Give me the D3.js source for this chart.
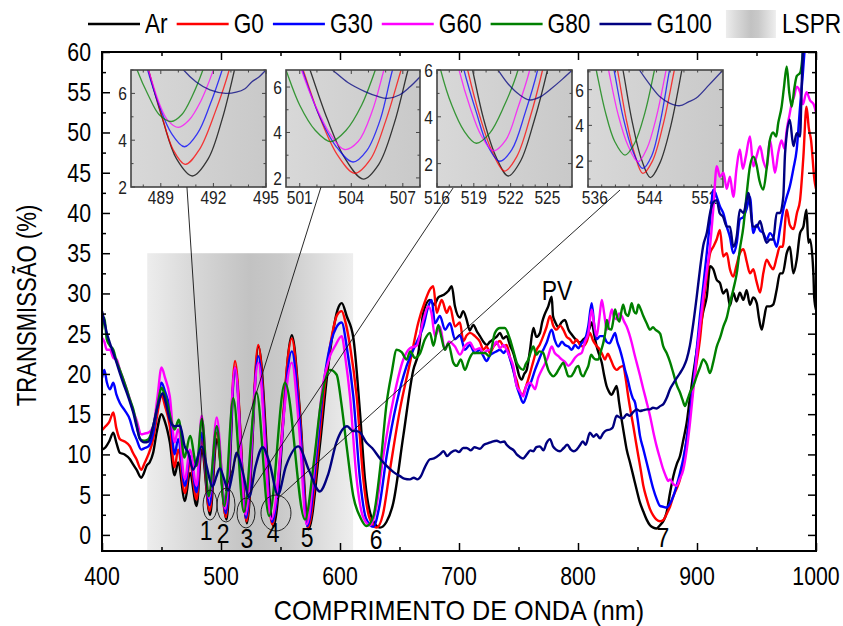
<!DOCTYPE html>
<html>
<head>
<meta charset="utf-8">
<script src="https://cdn.jsdelivr.net/npm/d3@7"></script>
<style>
  body { margin: 0; background: #fff; }
  svg { display: block; font-family: "Liberation Sans", Arial, sans-serif; }
</style>
</head>
<body>
<svg id="chart" width="843" height="626"></svg>
<script>
// Series names and colours (legend order)
const seriesNames = ['Ar', 'G0', 'G30', 'G60', 'G80', 'G100'];
const seriesColors = ['#000000', '#ff0000', '#0000ff', '#ff00ff', '#008000', '#000080'];

// Transmission spectra, [wavelength nm, transmission %]
const ar = [[400,10.6],[403,10.9],[406,11.6],[409.5,12.7],[412,11.5],[415,10.2],[419,10.0],[423.5,9.4],[426,8.8],[429,8.1],[433,7.1],[435,7.6],[437.5,8.6],[440,9.0],[443,10.2],[446,12.8],[450,15.0],[453,14.0],[457,11.5],[461,7.4],[464,9.0],[469.7,4.2],[473.9,7.7],[479.5,3.6],[483.7,10.6],[490.8,2.5],[496.4,11.9],[504.7,1.9],[511.8,20.8],[521.8,1.45],[531.5,23.4],[544.1,1.05],[559.5,24.8],[566.4,15.2],[573.5,0.7],[583,11.0],[588.8,19.3],[594.4,25.5],[598,28.0],[601.5,28.8],[605.6,27.2],[611.2,24.5],[616.8,15.2],[621,6.9],[627,2.0],[633.6,0.9],[639,1.6],[644.8,4.0],[653.2,12.3],[661.6,20.5],[665.8,22.6],[670,27.6],[675.6,29.2],[679,28.6],[682.6,29.5],[686.8,29.8],[691,30.3],[693.9,30.9],[696.6,28.4],[700.8,27.0],[703.5,27.8],[706.5,26.7],[709,25.4],[712,26.1],[715,25.3],[717.6,24.7],[720.5,24.0],[723.3,23.6],[726,24.0],[728.8,24.3],[731.5,24.6],[734.5,25.1],[737,24.4],[740,24.7],[743,23.5],[745.6,22.6],[748.5,21.0],[750.5,19.8],[752.7,19.3],[754.8,20.0],[756.9,20.5],[759.5,22.8],[762.5,25.7],[765,24.6],[768,25.1],[770,26.5],[772,27.4],[775,28.4],[777.9,29.6],[779,27.2],[781,26.4],[783.4,25.8],[786,26.4],[789,26.7],[792,25.5],[794.7,24.9],[798,24.3],[801.7,23.9],[804.5,24.3],[807.3,24.7],[809.5,25.6],[811.5,26.4],[813.5,25.0],[815.7,23.4],[818,22.3],[820,21.4],[822,19.8],[824,18.5],[826,17.8],[828.3,17.4],[830.5,18.0],[832.5,18.5],[834.5,16.5],[836.7,14.3],[838.8,12.4],[840.9,10.6],[843.7,9.0],[846.5,7.3],[849.3,5.6],[852.1,4.0],[854.9,2.9],[857.7,1.9],[860.5,1.2],[863.3,0.9],[866,0.8],[868.9,1.2],[872,1.8],[874.5,2.8],[877.3,5.2],[880.1,7.3],[883,8.8],[885.7,9.8],[888.5,11.8],[891.3,13.9],[894,17.0],[896.9,20.1],[899.7,22.8],[902.5,25.5],[905.3,27.8],[908.2,29.6],[911,33.4],[913.7,33.0],[916.5,31.7],[919.3,31.3],[922,30.0],[925,30.5],[927.7,28.5],[930.5,30.1],[933.2,29.0],[936,30.1],[939,29.2],[941.7,30.4],[944.5,28.6],[947.3,29.5],[950.2,28.8],[952,27.0],[954.4,25.5],[956.5,27.0],[958.5,28.4],[961.3,28.4],[964,28.6],[967,30.5],[969.7,32.5],[972,32.5],[975.4,35.0],[978,35.8],[981,32.5],[983.8,34.2],[986.6,37.5],[989.4,38.3],[992,40.4],[993.6,36.3],[995,36.7],[997.8,32.5],[998.5,29.5],[1000,28.0]];

const g0 = [[400,13.0],[403,13.5],[406,14.0],[409.5,15.2],[412,13.3],[415,11.9],[419,11.6],[423.5,11.0],[426,10.2],[429,9.4],[433,8.1],[436,9.0],[439,10.0],[443,11.9],[446.5,15.0],[450,17.4],[453,16.0],[457,13.5],[461,8.4],[464,10.6],[469.7,5.2],[473.9,9.0],[479.5,4.4],[483.7,11.9],[490.4,2.95],[496.4,12.7],[504.2,2.2],[511.8,21.6],[521.5,1.68],[531.3,23.6],[543,1.3],[559.5,24.4],[566,15.5],[573,0.9],[582,11.0],[587.5,19.0],[593.5,25.0],[597.5,27.3],[601.4,27.8],[604.5,26.5],[608.4,23.5],[614,17.2],[619.6,6.9],[625,2.0],[630.8,0.9],[636,2.5],[642,8.1],[650.4,15.6],[658.8,21.4],[665.8,26.4],[671.4,29.0],[675.6,30.5],[678.4,30.9],[681.3,27.6],[683.5,28.5],[685.5,29.2],[689.7,27.6],[692.4,28.4],[696.6,25.9],[700.8,26.4],[703.6,24.1],[706.5,24.8],[709.2,25.1],[713.4,24.7],[717.6,24.0],[720.5,23.0],[723.2,23.4],[726,22.6],[729,23.4],[731.5,23.8],[734.5,24.1],[737.5,23.4],[740,23.6],[743,22.0],[745.6,20.5],[748.5,19.2],[751.3,17.7],[753.5,17.4],[755.5,18.1],[757.5,19.0],[759.7,20.1],[762.5,21.6],[765.3,23.0],[768,23.7],[770.8,24.7],[773.5,25.8],[776.5,27.2],[779.2,26.0],[782,25.5],[785,26.0],[787.6,25.5],[790.5,24.6],[793.3,24.3],[796,23.8],[798.9,24.3],[801.7,23.6],[804.5,23.4],[807.3,24.0],[810,25.1],[812.5,24.2],[815,23.6],[818.5,23.0],[820.5,22.4],[822.7,21.8],[825,22.5],[827.5,21.8],[830,20.9],[832.5,20.5],[835,20.8],[838,21.0],[840,19.5],[842.2,17.2],[844.3,15.3],[846.5,13.5],[848.5,11.7],[850.7,9.8],[852.8,8.0],[854.9,6.1],[857.7,4.5],[860.5,3.2],[863.3,2.4],[866,1.9],[869,1.7],[872,1.9],[874.5,2.6],[877.3,3.5],[880.1,4.8],[883,5.8],[885.7,6.9],[888.5,9.0],[891.3,11.9],[894,15.0],[896.9,18.5],[899.7,21.4],[902.5,24.3],[905.3,28.5],[908.2,32.1],[911,35.0],[913.7,35.8],[916.5,36.7],[919.3,37.9],[922,34.6],[925,35.0],[927.7,33.0],[930.5,32.1],[933.2,33.5],[936,35.0],[939,35.5],[941.7,34.0],[944.5,32.5],[947.3,33.0],[950,31.5],[953,30.1],[955.7,32.5],[958.5,34.2],[961.3,33.5],[964,33.0],[967,34.5],[969.7,35.8],[972,35.8],[975.4,40.4],[978,38.5],[981,38.0],[984,40.0],[986.6,41.6],[989.4,47.0],[992,53.2],[994,50.5],[995.8,49.1],[998.7,44.1],[1000,43.0]];

const g30 = [[400,19.5],[402,20.5],[404,19.0],[406.7,18.1],[409.5,18.9],[412,17.5],[415,16.4],[419,15.5],[423.5,14.3],[426,13.0],[429,11.9],[433,10.6],[436,10.8],[439,11.0],[443,12.7],[446.5,16.0],[450,18.9],[453,17.8],[457,15.6],[461,10.0],[464,11.9],[469.7,6.1],[473.9,9.8],[479.5,5.3],[483.7,12.7],[490.35,3.7],[496.4,13.5],[504.1,2.7],[511.8,20.6],[521.1,2.1],[531.3,22.2],[543,1.6],[559.5,22.8],[566,14.5],[572.5,1.1],[581,11.0],[586.5,19.0],[592.5,24.0],[597,25.8],[601.4,26.4],[606,23.0],[611.2,17.2],[616.8,6.9],[622,2.0],[628,1.0],[633,3.5],[639.2,9.8],[647.6,16.4],[656,21.0],[664.4,23.9],[670,25.9],[674.2,28.4],[677,29.2],[679.8,26.3],[684,27.2],[688.2,25.5],[692.4,26.3],[696.6,24.3],[700.8,24.8],[705,23.0],[709,23.6],[713.4,22.6],[717.6,23.0],[720.5,22.2],[723.2,21.6],[726,22.3],[728.8,22.6],[731.5,22.8],[734.5,23.0],[737.5,22.6],[740,23.0],[743,21.8],[745.6,20.5],[748.5,18.5],[751,17.4],[754,16.4],[756,17.0],[758.3,18.1],[761,19.2],[763.9,20.5],[766.5,21.5],[769.5,22.6],[771.5,23.2],[773.7,23.9],[777.9,25.5],[780.5,24.2],[783.4,23.4],[786.5,24.0],[789,23.6],[792,23.4],[794.7,23.0],[797.5,23.6],[800.3,23.2],[803,23.8],[805.9,24.3],[808.7,26.0],[811.5,28.8],[813.7,26.0],[815.7,24.3],[818.5,24.7],[821.3,24.7],[824,24.0],[826.5,23.8],[829,24.5],[831.1,25.1],[833,24.0],[835.3,23.0],[837.5,21.8],[839.5,20.5],[841.5,19.5],[843.7,18.1],[846,17.0],[848,16.4],[850,14.5],[852.1,12.3],[855,10.6],[857.7,9.0],[860.5,7.3],[863.3,5.7],[866,4.5],[868.9,3.6],[871.5,3.5],[874.5,3.4],[877.3,3.9],[880.1,4.8],[883,6.2],[885.7,7.7],[888.5,9.5],[891.3,11.9],[894,15.0],[896.9,18.9],[899.7,23.0],[902.5,27.2],[905.3,31.0],[908.2,35.0],[911,39.0],[913.7,42.9],[916.6,42.0],[919.3,40.8],[922,40.0],[925,38.3],[927.7,37.0],[930.5,35.0],[933.4,36.3],[936,39.2],[939,39.5],[941.7,40.5],[944.5,42.0],[947.3,37.5],[950,38.5],[953,37.8],[955.7,37.5],[958.5,36.7],[961.3,37.5],[964,37.0],[967,35.8],[969.7,38.0],[972.5,40.4],[975.4,42.0],[978,43.3],[981,45.5],[983.8,47.9],[986.6,53.2],[988.8,57.0],[990.8,61.0]];

const g60 = [[400,24.5],[402,24.0],[404,23.0],[406.7,23.0],[409.5,22.0],[412.3,21.8],[415,20.5],[418,19.3],[421,18.0],[423.5,16.8],[426,15.5],[429,14.3],[433,12.5],[436,12.6],[439,12.7],[443,13.5],[446.5,17.0],[450,20.8],[453,19.5],[457,17.2],[461,11.5],[464,13.1],[469.7,6.9],[473.9,10.6],[479.5,6.1],[483.7,14.8],[490,4.55],[496.4,14.6],[503.6,3.25],[511.8,20.8],[520.6,2.55],[531.3,21.4],[542.3,1.95],[559.5,21.4],[565.5,13.5],[572,1.3],[580,11.0],[585.5,18.5],[591.6,22.2],[596,23.5],[601.4,24.7],[604.5,22.0],[608.4,17.2],[614,6.9],[619.5,2.2],[625.5,1.2],[630,3.0],[636.4,9.8],[644.8,16.8],[653.2,21.8],[658.8,23.2],[664.4,23.5],[670,26.7],[674.2,28.4],[676.8,27.6],[679.8,24.7],[684,25.9],[688.2,23.0],[691.5,24.0],[696.6,23.4],[700.8,22.4],[705,23.5],[709.2,23.9],[713.4,23.0],[717.6,23.2],[720.5,22.5],[723.2,22.9],[726,23.0],[728.8,23.4],[731.5,24.0],[734.5,23.2],[737.5,23.6],[740,23.0],[743,22.0],[745.6,21.0],[748.5,18.5],[751,17.9],[754,17.2],[756.5,18.5],[759.7,18.9],[762,18.5],[763.9,18.1],[766.5,19.5],[769.5,20.5],[772,21.2],[774.5,22.0],[777.9,23.4],[780.5,22.6],[783.5,22.2],[786.3,21.8],[789,21.5],[791.9,21.0],[794.7,21.4],[797.5,22.0],[800.3,22.4],[803,22.6],[805.9,24.0],[808.7,25.1],[811.5,28.0],[813.7,26.0],[815.7,24.7],[818,27.0],[820,29.2],[822,27.5],[824.2,25.5],[826.5,26.8],[828.4,28.0],[830.5,27.0],[832.5,26.8],[834.5,27.5],[836.7,27.2],[838.8,26.5],[840.9,25.9],[843,25.0],[845.1,23.9],[847.2,22.6],[849.3,21.4],[852.1,19.8],[854.9,18.1],[857.7,16.5],[860.5,14.8],[863.3,12.8],[866.1,11.0],[868.9,9.5],[871.7,8.1],[873.8,7.3],[875.9,6.7],[877.3,6.9],[880.1,6.3],[882.9,6.1],[885.7,7.0],[888.5,8.1],[891.3,10.5],[894.1,13.9],[896.9,18.0],[899.7,22.2],[902.5,26.0],[905.3,29.6],[908.2,32.8],[910.9,35.8],[913.7,40.5],[916.6,45.8],[919.3,44.5],[922.2,45.0],[925,43.0],[927.7,44.5],[930.5,42.0],[933.2,45.5],[936,47.9],[938.5,45.5],[941,47.0],[944.5,49.5],[947.3,45.8],[950,47.0],[953,48.3],[955.7,46.5],[958.5,45.5],[961.3,49.1],[963.5,47.0],[965.5,45.0],[968.3,47.5],[971,49.0],[973.5,48.0],[975.4,50.3],[977.5,52.0],[979.6,53.6],[981.7,54.5],[983.8,55.7],[986.6,55.0],[989,53.5],[992,55.0],[995,54.0],[998,53.5],[1000,52.5]];

const g80 = [[400,25.5],[402,27.0],[404,24.3],[406.7,23.5],[409.5,23.0],[412,21.7],[415,20.5],[418,19.3],[420.7,18.1],[423.5,16.8],[426.3,15.6],[429,13.8],[432,11.9],[435.5,11.7],[439,11.9],[443,13.5],[446.5,16.0],[450,18.3],[452.5,17.5],[455.5,16.0],[458.5,14.0],[461,13.1],[464.5,14.3],[469.3,9.6],[474,12.3],[479.5,8.6],[484,14.4],[489.6,4.8],[496.5,13.5],[502.8,3.6],[510.3,17.0],[519.2,2.85],[529.8,17.7],[540.4,2.35],[553.8,18.9],[570.6,1.9],[578,9.0],[584,16.5],[591.6,20.5],[597.2,19.9],[601,16.5],[605.6,11.0],[611.2,4.8],[617,2.2],[622.4,1.1],[628,2.3],[633.6,8.1],[639.2,16.4],[643.4,20.1],[647.6,23.0],[651.8,22.7],[656,21.8],[659,22.8],[663,22.0],[667,22.5],[671.4,24.3],[675.6,25.1],[678.5,23.5],[682.6,26.1],[685,24.7],[688.2,23.0],[691,23.8],[695.2,21.4],[698,21.0],[701.5,21.8],[705,20.5],[708.5,21.8],[712,22.6],[716.5,22.6],[721.8,22.6],[725.5,22.2],[730.2,25.1],[734.5,25.7],[738.5,25.7],[742.9,24.3],[745.8,22.8],[748.5,21.4],[751,20.8],[754,20.5],[756,21.2],[758.3,21.8],[760.5,22.8],[762.5,23.4],[765,22.4],[767.5,22.8],[770.8,22.6],[773,21.5],[775,20.5],[777,20.0],[779.2,19.7],[781.5,20.0],[783.5,20.5],[785.5,21.0],[787.6,21.4],[789.7,20.6],[791.9,19.7],[794,19.7],[796.5,20.2],[798.5,20.8],[800.3,21.0],[802.5,20.0],[804.5,19.7],[806.5,20.3],[808.7,21.0],[811,22.4],[813,22.0],[815,21.8],[817.1,21.8],[819.2,22.8],[821.3,23.9],[823,25.2],[824.2,26.7],[826,25.6],[828,25.5],[829.5,26.5],[831.1,28.0],[833,27.0],[834.8,26.5],[836.5,27.8],[838,28.6],[840,27.5],[842,27.2],[843.7,28.0],[845.1,28.8],[847,27.8],[849,27.5],[850.7,28.6],[852.8,28.0],[854.9,27.2],[857.7,26.3],[860.5,25.5],[863,25.8],[865,25.5],[869,25.0],[871.5,23.5],[874.5,22.6],[877.3,21.5],[880.1,20.1],[883,18.6],[885.7,17.7],[887.8,16.8],[889.9,16.0],[892,16.8],[894.1,17.7],[896.9,18.5],[899.7,19.7],[902.5,20.8],[905.3,21.8],[908.2,21.2],[910.9,20.1],[913.7,21.5],[916.6,23.4],[919.4,24.5],[922.2,25.9],[925,27.0],[927.7,28.8],[930.5,30.5],[933.4,32.5],[936,35.5],[939,38.3],[941.5,42.0],[944.5,45.8],[947.3,47.0],[950,46.0],[952.5,44.0],[955.7,42.9],[958.5,45.5],[961.3,49.1],[964,50.0],[966.5,49.5],[968.3,51.2],[971.1,53.2],[973,55.5],[975.4,58.2],[977.5,55.0],[979.6,53.2],[981.8,55.5],[983.8,57.0],[986.6,57.4],[988,58.5],[989.4,61.0]];

const g100 = [[400,27.8],[402,26.5],[404,25.1],[406.7,23.8],[409.5,22.6],[412,21.5],[415,20.1],[418,18.8],[420.7,17.7],[423.5,16.5],[426.3,15.2],[429,13.5],[432,11.9],[435.5,11.5],[439,11.6],[443,13.5],[446.5,15.8],[450.9,17.6],[453.5,16.5],[457,14.3],[461,13.5],[465.5,13.6],[469.5,11.0],[472.5,10.2],[476.6,8.1],[483.8,11.0],[488,8.5],[492.7,6.0],[494,6.3],[496,7.2],[499,8.3],[502.5,7.0],[506.1,5.5],[509.5,7.5],[513,10.2],[518,8.0],[523.6,4.7],[529,8.5],[535,10.9],[541,8.8],[547.8,5.0],[554.5,8.5],[565,11.0],[574,8.0],[583,5.4],[590,7.5],[597,11.5],[606,13.5],[611,12.9],[614,12.9],[617,12.7],[622,11.5],[627,10.8],[633.6,9.5],[639,8.6],[645,7.8],[650.4,7.3],[654,7.0],[658.8,6.9],[662,7.1],[665,6.9],[668,7.3],[671,8.3],[675.6,9.4],[679,9.5],[684,10.0],[687,10.4],[690,9.8],[693,10.2],[697,10.5],[700,10.3],[703.5,10.8],[706.5,10.8],[710,10.5],[713,10.9],[717.6,10.7],[721,11.2],[724.5,11.4],[728,11.6],[731.7,11.7],[735,11.5],[738,11.6],[740,11.2],[743,10.8],[746,10.5],[748.5,10.0],[751,9.7],[753.8,9.5],[757,10.0],[760,10.5],[762.5,10.4],[765,10.9],[768,11.0],[771,10.5],[773.5,11.4],[776.5,11.9],[779,11.0],[781.5,10.6],[784.9,10.4],[788,10.8],[791,11.2],[794,10.6],[796.5,10.4],[798.9,10.6],[801.5,11.1],[804,11.6],[806.5,11.2],[810,12.7],[813,12.2],[815.5,12.5],[818.5,12.0],[821,12.6],[824,13.0],[826.9,13.1],[829,13.3],[832.5,14.8],[835,14.6],[838,14.5],[841,15.0],[843.5,14.8],[846,15.2],[849.3,15.6],[852,15.4],[855,15.5],[858,15.6],[860.5,15.6],[863,15.8],[866,15.7],[869,16.0],[872,16.3],[874.5,17.0],[877.3,18.1],[880,18.8],[883,19.5],[885.7,20.1],[888.5,20.8],[891.3,21.8],[894,23.5],[896.9,26.3],[899.7,29.5],[902.5,33.0],[905.3,36.0],[908.2,37.5],[911,40.0],[913.5,41.3],[916.6,41.6],[919,40.0],[922,39.5],[925,38.3],[927.7,38.3],[930.5,35.8],[933.4,37.1],[936,40.4],[939,40.0],[941.7,41.6],[943.2,42.5],[947,38.3],[950.2,38.3],[953,39.0],[955.7,37.5],[958.6,36.3],[961.3,36.7],[964,36.7],[967,40.0],[969.7,40.0],[972.5,42.0],[974,47.4],[978,51.6],[981,48.3],[983.8,49.9],[986.6,49.5],[988,56.0],[989,60.5]];

const mainSeries = [ar, g0, g30, g60, g80, g100];

// Axis ticks
const xTicks = [400, 500, 600, 700, 800, 900, 1000];
const xMinorTicks = [450, 550, 650, 750, 850, 950];
const yTicks = [0, 5, 10, 15, 20, 25, 30, 35, 40, 45, 50, 55, 60];
const yMinorTicks = [2.5, 7.5, 12.5, 17.5, 22.5, 27.5, 32.5, 37.5, 42.5, 47.5, 52.5, 57.5];

// LSPR band: [start nm, end nm, top %]
const lsprBand = [438, 611, 35];

// Zoomed minima (insets), one array per series in legend order
const inset1Curves = [
  [[487.8,8.6],[488.3,7.0],[489.1,4.9],[489.9,3.2],[490.8,2.47],[491.7,3.2],[492.5,4.9],[493.2,7.0],[493.6,8.4]],
  [[487.8,8.6],[488.3,7.0],[489.0,5.2],[489.7,3.6],[490.4,2.97],[491.2,3.6],[492.1,5.2],[492.9,7.0],[493.3,8.3]],
  [[487.8,8.4],[488.25,7.0],[488.9,5.5],[489.6,4.3],[490.35,3.72],[491.1,4.3],[491.8,5.5],[492.5,7.0],[492.9,8.0]],
  [[487.9,8.0],[488.3,7.0],[488.9,5.6],[489.4,4.85],[490.0,4.55],[490.6,4.85],[491.3,5.7],[492.0,7.0],[492.4,7.9]],
  [[487.3,7.8],[487.65,7.0],[488.3,5.9],[488.9,5.1],[489.6,4.8],[490.2,5.1],[490.8,5.9],[491.4,7.0],[491.7,7.7]],
  [[490.0,7.3],[490.3,7.0],[491.0,6.5],[491.8,6.15],[492.7,6.0],[493.3,6.05],[493.8,6.2],[494.2,6.5],[494.6,6.7],[495.0,7.0],[495.3,7.2]]
];
const inset2Curves = [
  [[501.2,7.6],[501.6,6.75],[502.6,4.6],[503.6,2.9],[504.7,1.95],[505.6,2.6],[506.5,4.4],[507.3,6.75],[507.7,7.8]],
  [[500.8,7.6],[501.2,6.75],[502.2,4.6],[503.2,3.0],[504.2,2.2],[505.1,2.8],[506.0,4.5],[506.9,6.75],[507.3,7.7]],
  [[500.8,7.5],[501.15,6.75],[502.1,4.8],[503.1,3.4],[504.1,2.7],[504.9,3.2],[505.7,4.6],[506.4,6.75],[506.8,7.6]],
  [[500.8,7.5],[501.1,6.75],[501.9,5.2],[502.8,3.9],[503.6,3.25],[504.4,3.6],[505.2,4.9],[505.9,6.75],[506.2,7.5]],
  [[499.9,7.4],[500.2,6.75],[501.0,5.2],[501.9,4.1],[502.8,3.6],[503.7,4.1],[504.6,5.2],[505.4,6.75],[505.7,7.4]],
  [[502.6,6.9],[502.9,6.75],[503.8,6.2],[504.8,5.8],[505.5,5.6],[506.1,5.5],[506.8,5.65],[507.4,6.0],[508.0,6.45],[508.3,6.7]]
];
const inset3Curves = [
  [[518.5,7.0],[518.9,6.0],[519.8,3.9],[520.8,2.3],[521.8,1.47],[522.8,2.1],[523.9,3.8],[525.0,6.0],[525.4,7.0]],
  [[518.1,7.0],[518.5,6.0],[519.5,4.0],[520.5,2.5],[521.5,1.68],[522.5,2.3],[523.6,4.0],[524.6,6.0],[525.0,7.0]],
  [[517.8,7.0],[518.2,6.0],[519.2,4.2],[520.1,2.8],[521.1,2.1],[522.1,2.6],[523.2,4.2],[524.2,6.0],[524.6,7.0]],
  [[517.4,7.0],[517.8,6.0],[518.7,4.4],[519.6,3.2],[520.6,2.55],[521.6,3.0],[522.6,4.4],[523.55,6.0],[523.9,7.0]],
  [[515.9,7.0],[516.3,6.0],[517.2,4.5],[518.2,3.4],[519.2,2.87],[520.3,3.3],[521.5,4.5],[522.6,6.0],[523.0,7.0]],
  [[520.6,6.3],[520.97,6.0],[521.8,5.4],[522.7,4.95],[523.55,4.72],[524.4,4.85],[525.3,5.2],[526.2,5.6],[527.0,6.0],[527.3,6.2]]
];
const inset4Curves = [
  [[539.5,8.2],[540.1,7.1],[541.4,4.3],[542.8,2.1],[544.1,1.08],[545.5,1.9],[547.1,4.0],[548.7,7.1],[549.3,8.3]],
  [[538.7,8.2],[539.3,7.1],[540.6,4.3],[541.8,2.4],[543.0,1.31],[544.4,2.0],[546.0,4.1],[547.6,7.1],[548.2,8.2]],
  [[538.2,8.2],[538.8,7.1],[540.1,4.5],[541.5,2.6],[543.0,1.59],[544.3,2.3],[545.6,4.3],[546.9,7.1],[547.5,8.2]],
  [[537.4,8.2],[538.0,7.1],[539.4,4.6],[540.8,2.9],[542.3,1.96],[543.6,2.7],[545.0,4.5],[546.4,7.1],[547.0,8.2]],
  [[535.6,8.2],[536.2,7.1],[537.5,4.8],[538.9,3.1],[540.4,2.34],[541.8,3.0],[543.3,4.7],[544.7,7.1],[545.3,8.2]],
  [[542.0,7.4],[542.5,7.1],[544.0,6.3],[545.5,5.6],[546.9,5.25],[548.4,5.1],[549.6,5.3],[550.8,5.53],[552.7,6.28],[554.7,7.1]]
];
const insetCurves = [inset1Curves, inset2Curves, inset3Curves, inset4Curves];
const insetXDomains = [[487.3, 495], [500.2, 508], [516, 527], [535, 554.7]];
const insetYDomains = [[2, 7], [1.6, 6.75], [1, 6], [0.55, 7.1]];
const insetXTicks = [[489, 492, 495], [501, 504, 507], [516, 519, 522, 525], [536, 544, 552]];
const insetYTicks = [2, 4, 6];

// Marked minima (circles) and connectors, in data units
const minimaCircles = [[490.8, 3.71], [504.2, 3.71], [521.0, 2.72], [546.2, 2.72]];
const connectors = [
  [[471.4, 43.2], [488.2, 5.33]],
  [[584.0, 43.2], [503.8, 5.45]],
  [[695.0, 43.1], [521.8, 4.7]],
  [[835.3, 42.85], [547.1, 4.46]]
];
const fringeLabels = [['1', 487.4, -0.64], ['2', 501.7, -1.0], ['3', 521.8, -1.6], ['4', 543.7, -0.9],
                      ['5', 572.3, -1.5], ['6', 630.3, -1.75], ['7', 871.4, -1.5], ['PV', 782.4, 29.2]];

// ---------- layout ----------
const svg = d3.select('#chart');
const pL = 102, pR = 816, pT = 52, pB = 551;
const SQ = 0.82; // condensed text

const x = d3.scaleLinear().domain([400, 1000]).range([pL, pR]);
const y = d3.scaleLinear().domain([-2, 60]).range([pB, pT]);

function txt(g, px, py, s, size, anchor, rot, sq) {
  return g.append('text')
    .attr('transform', `translate(${px},${py}) rotate(${rot || 0}) scale(${sq || SQ},1)`)
    .attr('text-anchor', anchor || 'middle')
    .attr('font-size', size)
    .attr('fill', '#000')
    .text(s);
}

const defs = svg.append('defs');
const lg = defs.append('linearGradient').attr('id', 'lsprGrad').attr('x1', 0).attr('x2', 1).attr('y1', 0).attr('y2', 0);
lg.append('stop').attr('offset', '0%').attr('stop-color', '#ededed');
lg.append('stop').attr('offset', '20%').attr('stop-color', '#dadada');
lg.append('stop').attr('offset', '50%').attr('stop-color', '#c2c2c2');
lg.append('stop').attr('offset', '65%').attr('stop-color', '#c9c9c9');
lg.append('stop').attr('offset', '100%').attr('stop-color', '#eeeeee');
const ig = defs.append('linearGradient').attr('id', 'insetGrad').attr('x1', 0).attr('x2', 1).attr('y1', 0).attr('y2', 0);
ig.append('stop').attr('offset', '0%').attr('stop-color', '#d8d8d8');
ig.append('stop').attr('offset', '100%').attr('stop-color', '#c9c9c9');
defs.append('clipPath').attr('id', 'plotClip').append('rect')
  .attr('x', pL).attr('y', pT).attr('width', pR - pL).attr('height', pB - pT);

// LSPR band
svg.append('rect')
  .attr('x', x(lsprBand[0])).attr('y', y(lsprBand[2]))
  .attr('width', x(lsprBand[1]) - x(lsprBand[0]))
  .attr('height', y(-2) - y(lsprBand[2]))
  .attr('fill', 'url(#lsprGrad)');

// ---------- insets ----------
const insetBoxes = [[131, 266], [286, 420], [437, 572], [588, 723]];
const iTop = 70, iBottom = 187;

insetBoxes.forEach((b, i) => {
  const g = svg.append('g');
  const ix = d3.scaleLinear().domain(insetXDomains[i]).range([b[0], b[1]]);
  const iy = d3.scaleLinear().domain(insetYDomains[i]).range([iBottom, iTop]);
  defs.append('clipPath').attr('id', 'insetClip' + i).append('rect')
    .attr('x', b[0]).attr('y', iTop).attr('width', b[1] - b[0]).attr('height', iBottom - iTop);

  g.append('rect').attr('x', b[0]).attr('y', iTop).attr('width', b[1] - b[0]).attr('height', iBottom - iTop)
    .attr('fill', 'url(#insetGrad)');

  const iline = d3.line().x(d => ix(d[0])).y(d => iy(d[1])).curve(d3.curveCatmullRom);
  g.append('g').attr('clip-path', `url(#insetClip${i})`)
    .selectAll('path').data(insetCurves[i]).join('path')
    .attr('d', iline)
    .attr('fill', 'none')
    .attr('stroke', (d, k) => seriesColors[k])
    .attr('stroke-opacity', 0.75)
    .attr('stroke-width', 1.3);

  // ticks on all sides, pointing inward
  const xs = insetXDomains[i], ys = insetYDomains[i];
  const minorStep = i === 3 ? 2 : 1;
  const xMin = d3.range(Math.ceil(xs[0]), xs[1] + 0.01, minorStep);
  const yMin = d3.range(Math.ceil(ys[0]), ys[1] + 0.01, 1);
  const tk = g.append('g').attr('stroke', '#444').attr('stroke-width', 1);
  xMin.forEach(v => {
    const L = insetXTicks[i].includes(v) ? 4 : 2.5;
    tk.append('line').attr('x1', ix(v)).attr('x2', ix(v)).attr('y1', iBottom).attr('y2', iBottom - L);
    tk.append('line').attr('x1', ix(v)).attr('x2', ix(v)).attr('y1', iTop).attr('y2', iTop + L);
  });
  yMin.forEach(v => {
    const L = insetYTicks.includes(v) ? 4 : 2.5;
    tk.append('line').attr('y1', iy(v)).attr('y2', iy(v)).attr('x1', b[0]).attr('x2', b[0] + L);
    tk.append('line').attr('y1', iy(v)).attr('y2', iy(v)).attr('x1', b[1]).attr('x2', b[1] - L);
  });
  g.append('rect').attr('x', b[0]).attr('y', iTop).attr('width', b[1] - b[0]).attr('height', iBottom - iTop)
    .attr('fill', 'none').attr('stroke', '#444').attr('stroke-width', 1.6);

  insetXTicks[i].forEach(v => txt(g, ix(v), iBottom + 17, v, 19, 'middle').attr('fill', '#222'));
  insetYTicks.forEach(v => {
    if (v >= ys[0] - 0.05 && v <= ys[1] + 0.05) txt(g, b[0] - 4, iy(v) + 7, v, 19, 'end').attr('fill', '#222');
  });
});

// ---------- main spectra ----------
const line = d3.line().x(d => x(d[0])).y(d => y(d[1])).curve(d3.curveMonotoneX);
svg.append('g').attr('clip-path', 'url(#plotClip)')
  .selectAll('path').data(mainSeries).join('path')
  .attr('d', line)
  .attr('fill', 'none')
  .attr('stroke', (d, i) => seriesColors[i])
  .attr('stroke-width', 2.4)
  .attr('stroke-linejoin', 'round');

// connectors and circles
const ann = svg.append('g').attr('fill', 'none').attr('stroke', '#111').attr('stroke-width', 0.9);
ann.selectAll('line').data(connectors).join('line')
  .attr('x1', d => x(d[0][0])).attr('y1', d => y(d[0][1]))
  .attr('x2', d => x(d[1][0])).attr('y2', d => y(d[1][1]));
const circleRadii = [[7, 15], [9, 17], [9, 15], [15, 18]];
ann.selectAll('ellipse').data(minimaCircles).join('ellipse')
  .attr('cx', d => x(d[0])).attr('cy', d => y(d[1]))
  .attr('rx', (d, i) => circleRadii[i][0]).attr('ry', (d, i) => circleRadii[i][1]);

// ---------- axes ----------
const ax = svg.append('g');
function styleAxis(sel) {
  sel.select('.domain').remove();
  sel.selectAll('line').attr('stroke', '#000').attr('stroke-width', 1.5);
}
ax.append('g').attr('transform', `translate(0,${pB})`)
  .call(d3.axisBottom(x).tickValues(xMinorTicks).tickSize(-4).tickFormat(''))
  .call(styleAxis);
ax.append('g').attr('transform', `translate(0,${pB})`)
  .call(d3.axisBottom(x).tickValues(xTicks).tickSize(-8).tickFormat(''))
  .call(styleAxis);
ax.append('g').attr('transform', `translate(0,${pT})`)
  .call(d3.axisTop(x).tickValues(xMinorTicks).tickSize(-4).tickFormat(''))
  .call(styleAxis);
ax.append('g').attr('transform', `translate(0,${pT})`)
  .call(d3.axisTop(x).tickValues(xTicks).tickSize(-8).tickFormat(''))
  .call(styleAxis);
ax.append('g').attr('transform', `translate(${pL},0)`)
  .call(d3.axisLeft(y).tickValues(yMinorTicks).tickSize(-4).tickFormat(''))
  .call(styleAxis);
ax.append('g').attr('transform', `translate(${pL},0)`)
  .call(d3.axisLeft(y).tickValues(yTicks).tickSize(-8).tickFormat(''))
  .call(styleAxis);
ax.append('g').attr('transform', `translate(${pR},0)`)
  .call(d3.axisRight(y).tickValues(yMinorTicks).tickSize(-4).tickFormat(''))
  .call(styleAxis);
ax.append('g').attr('transform', `translate(${pR},0)`)
  .call(d3.axisRight(y).tickValues(yTicks).tickSize(-8).tickFormat(''))
  .call(styleAxis);
ax.append('rect').attr('x', pL).attr('y', pT).attr('width', pR - pL).attr('height', pB - pT)
  .attr('fill', 'none').attr('stroke', '#000').attr('stroke-width', 2);

const labels = svg.append('g');
xTicks.forEach(v => txt(labels, x(v), 585, v, 26, 'middle'));
yTicks.forEach(v => txt(labels, 91, y(v) + 9, v, 26, 'end'));
txt(labels, (pL + pR) / 2, 620, 'COMPRIMENTO DE ONDA (nm)', 28, 'middle', 0, 0.9);
txt(labels, 36, (pT + pB) / 2 + 4, 'TRANSMISSÃO (%)', 27, 'middle', -90);

// fringe numbers and PV
fringeLabels.forEach(d => txt(labels, x(d[1]), y(d[2]), d[0], 28, 'middle'));

// ---------- legend ----------
const leg = svg.append('g');
let lx = 88;
seriesNames.forEach((name, i) => {
  leg.append('line').attr('x1', lx).attr('x2', lx + 52).attr('y1', 24).attr('y2', 24)
    .attr('stroke', seriesColors[i]).attr('stroke-width', 2.4);
  const t = txt(leg, lx + 57, 33, name, 27, 'start', 0, 0.84);
  lx = lx + 57 + t.node().getComputedTextLength() * 0.84 + 9;
});
leg.append('rect').attr('x', lx + 5).attr('y', 10).attr('width', 50).attr('height', 28)
  .attr('fill', 'url(#lsprGrad)');
txt(leg, lx + 61, 33, 'LSPR', 27, 'start', 0, 0.84);
</script>
</body>
</html>
